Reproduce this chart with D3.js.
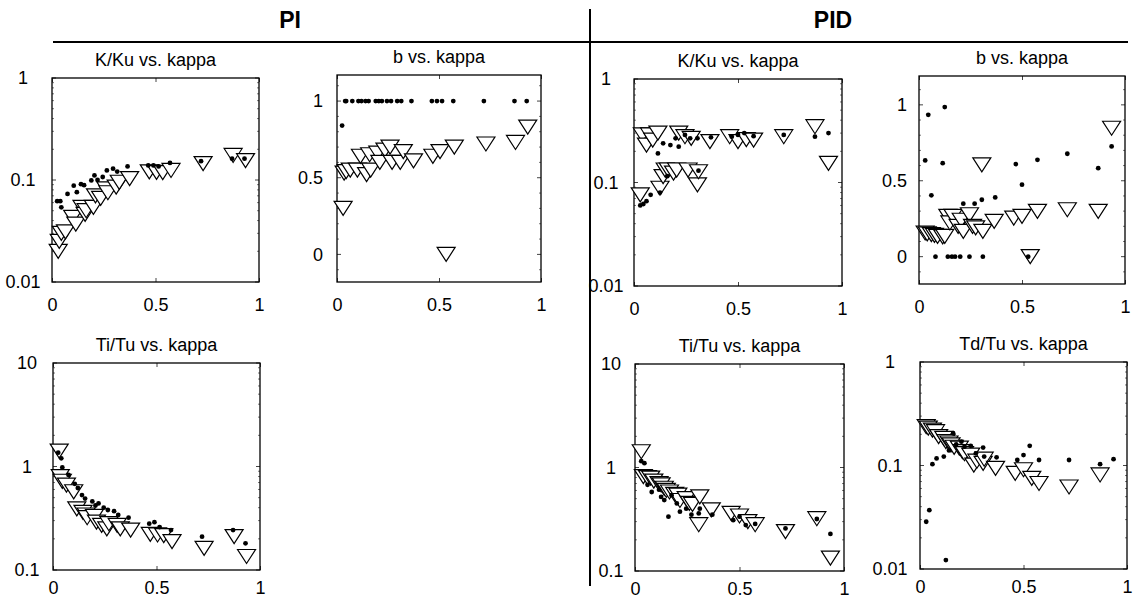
<!DOCTYPE html>
<html>
<head>
<meta charset="utf-8">
<script src="https://cdn.jsdelivr.net/npm/d3@7/dist/d3.min.js"></script>
<style>
  html, body { margin: 0; padding: 0; background: #fff; }
  svg { display: block; font-family: "Liberation Sans", Arial, sans-serif; }
</style>
</head>
<body>
<svg id="chart" width="1135" height="599"></svg>
<script>
// ---- PI controller results -------------------------------------------
// triangles: tuning-rule values, dots: optimised values
const piTriKappa = [0.03, 0.035, 0.045, 0.065, 0.10, 0.115, 0.145, 0.16, 0.165, 0.20, 0.21, 0.235,
                    0.26, 0.27, 0.31, 0.325, 0.375, 0.47, 0.505, 0.535, 0.575, 0.73, 0.875, 0.935];
const piTriK  = [0.020, 0.025, 0.030, 0.031, 0.043, 0.037, 0.054, 0.046, 0.050, 0.054, 0.070, 0.066,
                 0.082, 0.075, 0.085, 0.095, 0.103, 0.120, 0.119, 0.118, 0.124, 0.145, 0.174, 0.155];
const piTriB  = [0.30, 0.53, 0.54, 0.55, 0.55, 0.64, 0.52, 0.65, 0.55, 0.66, 0.60, 0.68,
                 0.70, 0.60, 0.60, 0.67, 0.61, 0.64, 0.67, 0.00, 0.70, 0.72, 0.73, 0.83];
const piTriTi = [1.41, 0.80, 0.72, 0.66, 0.57, 0.39, 0.36, 0.34, 0.32, 0.33, 0.29, 0.27,
                 0.25, 0.28, 0.27, 0.25, 0.243, 0.221, 0.218, 0.215, 0.188, 0.162, 0.21, 0.135];

const piDotKappa = [0.025, 0.04, 0.045, 0.075, 0.105, 0.12, 0.14, 0.155, 0.19, 0.205, 0.22, 0.245,
                    0.265, 0.295, 0.315, 0.365, 0.465, 0.49, 0.515, 0.57, 0.72, 0.87, 0.93];
const piDotK  = [0.062, 0.062, 0.054, 0.073, 0.088, 0.076, 0.091, 0.089, 0.099, 0.111, 0.100, 0.107,
                 0.124, 0.129, 0.121, 0.136, 0.139, 0.139, 0.136, 0.147, 0.153, 0.162, 0.162];
const piDotB  = [0.84, 1, 1, 1, 1, 1, 1, 1, 1, 1, 1, 1, 1, 1, 1, 1, 1, 1, 1, 1, 1, 1, 1];
const piDotTi = [1.36, 1.20, 0.98, 0.83, 0.68, 0.62, 0.53, 0.49, 0.46, 0.42, 0.44, 0.40,
                 0.38, 0.37, 0.34, 0.32, 0.28, 0.29, 0.26, 0.243, 0.21, 0.243, 0.181];

// ---- PID controller results ------------------------------------------
const pidTriKappa = [0.03, 0.04, 0.06, 0.075, 0.09, 0.115, 0.125, 0.14, 0.15, 0.165, 0.19, 0.205, 0.215,
                     0.245, 0.26, 0.275, 0.305, 0.31, 0.365, 0.46, 0.50, 0.54, 0.575, 0.72, 0.87, 0.935];
const pidTriK  = [0.076, 0.288, 0.23, 0.288, 0.257, 0.30, 0.088, 0.114, 0.132, 0.132, 0.123, 0.132, 0.30,
                  0.277, 0.132, 0.267, 0.095, 0.127, 0.248, 0.277, 0.248, 0.26, 0.257, 0.277, 0.346, 0.153];
const pidTriB  = [0.156, 0.15, 0.145, 0.14, 0.134, 0.13, 0.134, 0.265, 0.222, 0.265, 0.20, 0.24, 0.167,
                  0.276, 0.20, 0.19, 0.605, 0.167, 0.232, 0.254, 0.265, 0.0, 0.298, 0.309, 0.298, 0.846];
const pidTriTi = [1.42, 0.815, 0.80, 0.79, 0.74, 0.70, 0.68, 0.63, 0.60, 0.58, 0.55, 0.54, 0.48,
                  0.50, 0.45, 0.44, 0.28, 0.52, 0.39, 0.36, 0.34, 0.30, 0.28, 0.24, 0.32, 0.133];
const pidTriTd = [0.237, 0.23, 0.22, 0.212, 0.19, 0.183, 0.17, 0.165, 0.158, 0.15, 0.147, 0.136, 0.13,
                  0.126, 0.101, 0.11, 0.105, 0.115, 0.094, 0.084, 0.091, 0.075, 0.067, 0.062, 0.081, null];

const pidDotKappa = [0.03, 0.045, 0.06, 0.08, 0.115, 0.125, 0.14, 0.16, 0.175, 0.2, 0.215, 0.245,
                     0.27, 0.305, 0.31, 0.37, 0.47, 0.5, 0.53, 0.575, 0.72, 0.87, 0.935];
const pidDotK  = [0.060, 0.062, 0.066, 0.076, 0.191, 0.080, 0.239, 0.115, 0.230, 0.267, 0.222, 0.288,
                  0.267, 0.267, 0.13, 0.273, 0.277, 0.288, 0.30, 0.28, 0.288, 0.277, 0.30];
const pidDotB  = [0.634, 0.934, 0.404, 0, 0.616, 0.985, 0, 0, 0, 0, 0.349, 0,
                  0.349, 0.375, 0, 0.39, 0.61, 0.474, 0, 0.638, 0.678, 0.583, 0.726];
const pidDotTi = [1.15, 1.10, 0.68, 0.58, 0.61, 0.52, 0.485, 0.335, 0.54, 0.45, 0.374, 0.40,
                  0.35, 0.36, 0.40, 0.35, 0.31, 0.335, 0.278, 0.285, 0.258, 0.318, 0.228];
const pidDotTd = [0.0286, 0.037, 0.103, 0.117, 0.122, 0.0122, 0.14, 0.205, 0.16, 0.17, 0.152, 0.155,
                  0.131, 0.149, 0.122, 0.12, 0.113, 0.126, 0.155, 0.113, 0.113, 0.103, 0.115];

// ---- axis ticks --------------------------------------------------------
const xTicks = [0, 0.5, 1];
const xTickLabels = ["0", "0.5", "1"];
const bTicks = [0, 0.5, 1];
const bTickLabels = ["0", "0.5", "1"];
const gainTicks = [0.01, 0.1, 1];
const gainTickLabels = ["0.01", "0.1", "1"];
const timeTicks = [0.1, 1, 10];
const timeTickLabels = ["0.1", "1", "10"];

const groupTitles = ["PI", "PID"];

// ---- panel layout ------------------------------------------------------
const panels = [
  { title: "K/Ku vs. kappa",  x: 52,  y: 78,  w: 207, h: 204, type: "log", domain: [0.01, 1],
    ticks: gainTicks, labels: gainTickLabels, lab: 29,
    triK: piTriKappa, triV: piTriK, dotK: piDotKappa, dotV: piDotK },
  { title: "b vs. kappa",     x: 337, y: 75,  w: 204, h: 207, type: "lin", domain: [-0.18, 1.17],
    ticks: bTicks, labels: bTickLabels, lab: 14,
    triK: piTriKappa, triV: piTriB, dotK: piDotKappa, dotV: piDotB },
  { title: "Ti/Tu vs. kappa", x: 53,  y: 363, w: 207, h: 207, type: "log", domain: [0.1, 10],
    ticks: timeTicks, labels: timeTickLabels, lab: 26,
    triK: piTriKappa, triV: piTriTi, dotK: piDotKappa, dotV: piDotTi },
  { title: "K/Ku vs. kappa",  x: 634, y: 79,  w: 208, h: 207, type: "log", domain: [0.01, 1],
    ticks: gainTicks, labels: gainTickLabels, lab: 28,
    triK: pidTriKappa, triV: pidTriK, dotK: pidDotKappa, dotV: pidDotK },
  { title: "b vs. kappa",     x: 919, y: 76,  w: 206, h: 208, type: "lin", domain: [-0.18, 1.19],
    ticks: bTicks, labels: bTickLabels, lab: 12,
    triK: pidTriKappa, triV: pidTriB, dotK: pidDotKappa, dotV: pidDotB },
  { title: "Ti/Tu vs. kappa", x: 635, y: 364, w: 209, h: 207, type: "log", domain: [0.1, 10],
    ticks: timeTicks, labels: timeTickLabels, lab: 24,
    triK: pidTriKappa, triV: pidTriTi, dotK: pidDotKappa, dotV: pidDotTi },
  { title: "Td/Tu vs. kappa", x: 920, y: 362, w: 207, h: 207, type: "log", domain: [0.01, 1],
    ticks: gainTicks, labels: gainTickLabels, lab: 30,
    triK: pidTriKappa, triV: pidTriTd, dotK: pidDotKappa, dotV: pidDotTd }
];

const svg = d3.select("#chart");

// group headings, rule and divider
svg.append("text").attr("x", 290).attr("y", 28).attr("text-anchor", "middle")
  .attr("font-size", 23).attr("font-weight", "bold").text(groupTitles[0]);
svg.append("text").attr("x", 833).attr("y", 28).attr("text-anchor", "middle")
  .attr("font-size", 23).attr("font-weight", "bold").text(groupTitles[1]);
svg.append("line").attr("x1", 53).attr("x2", 1128).attr("y1", 42).attr("y2", 42)
  .attr("stroke", "#000").attr("stroke-width", 2);
svg.append("line").attr("x1", 590).attr("x2", 590).attr("y1", 9).attr("y2", 586)
  .attr("stroke", "#000").attr("stroke-width", 2);

const triPath = "M-9,-7L9,-7L0,7Z";

panels.forEach(p => {
  const g = svg.append("g").attr("transform", `translate(${p.x},${p.y})`);
  const xs = d3.scaleLinear().domain([0, 1]).range([0, p.w]);
  const ys = (p.type === "log" ? d3.scaleLog() : d3.scaleLinear()).domain(p.domain).range([p.h, 0]);

  // title
  g.append("text").attr("x", p.w / 2).attr("y", -12).attr("text-anchor", "middle")
    .attr("font-size", 18).text(p.title);

  // x axis labels + inward ticks
  const xAxis = d3.axisBottom(xs).tickValues(xTicks)
    .tickFormat((d, i) => xTickLabels[i]).tickSizeInner(-4).tickSizeOuter(0).tickPadding(p.y < 200 ? 16 : 11);
  const gx = g.append("g").attr("transform", `translate(0,${p.h})`).call(xAxis);
  gx.select(".domain").remove();
  gx.selectAll("text").attr("font-size", 18).attr("font-family", null).attr("fill", "#000");
  gx.selectAll("line").attr("stroke", "#444");
  const gxt = g.append("g").call(d3.axisTop(xs).tickValues(xTicks).tickFormat("").tickSizeInner(-4).tickSizeOuter(0));
  gxt.select(".domain").remove();
  gxt.selectAll("line").attr("stroke", "#444");

  // y axis labels + inward ticks (minor ticks on log axes)
  const yAxis = d3.axisLeft(ys).tickValues(p.ticks)
    .tickFormat((d, i) => p.labels[i]).tickSizeInner(0).tickSizeOuter(0).tickPadding(p.lab);
  const gy = g.append("g").call(yAxis);
  gy.select(".domain").remove();
  gy.selectAll("text").attr("font-size", 18).attr("font-family", null).attr("fill", "#000")
    .attr("text-anchor", p.type === "log" ? "middle" : "end");

  let minor = [];
  if (p.type === "log") {
    minor = ys.ticks().filter(v => p.ticks.indexOf(v) < 0);
  } else {
    minor = d3.range(-0.1, 1.15, 0.1).map(v => +v.toFixed(2)).filter(v => p.ticks.indexOf(v) < 0);
  }
  [[0, 1], [p.w, -1]].forEach(([x0, dir]) => {
    g.selectAll(null).data(p.ticks).enter().append("line")
      .attr("x1", x0).attr("x2", x0 + dir * 4).attr("y1", d => ys(d)).attr("y2", d => ys(d))
      .attr("stroke", "#444");
    g.selectAll(null).data(minor).enter().append("line")
      .attr("x1", x0).attr("x2", x0 + dir * 2).attr("y1", d => ys(d)).attr("y2", d => ys(d))
      .attr("stroke", "#777");
  });

  // frame
  g.append("rect").attr("width", p.w).attr("height", p.h)
    .attr("fill", "none").attr("stroke", "#000").attr("stroke-width", 1.3);

  // tuning-rule results (open triangles)
  const tri = p.triK.map((k, i) => ({ k, v: p.triV[i] })).filter(d => d.v !== null);
  g.selectAll(null).data(tri).enter().append("path")
    .attr("d", triPath)
    .attr("transform", d => `translate(${xs(d.k)},${ys(d.v)})`)
    .attr("fill", "#fff").attr("stroke", "#000").attr("stroke-width", 1.2)
    .attr("stroke-linejoin", "miter");

  // optimised results (dots)
  const dots = p.dotK.map((k, i) => ({ k, v: p.dotV[i] }));
  g.selectAll(null).data(dots).enter().append("circle")
    .attr("cx", d => xs(d.k)).attr("cy", d => ys(d.v)).attr("r", 2.4)
    .attr("fill", "#000");
});
</script>
</body>
</html>
